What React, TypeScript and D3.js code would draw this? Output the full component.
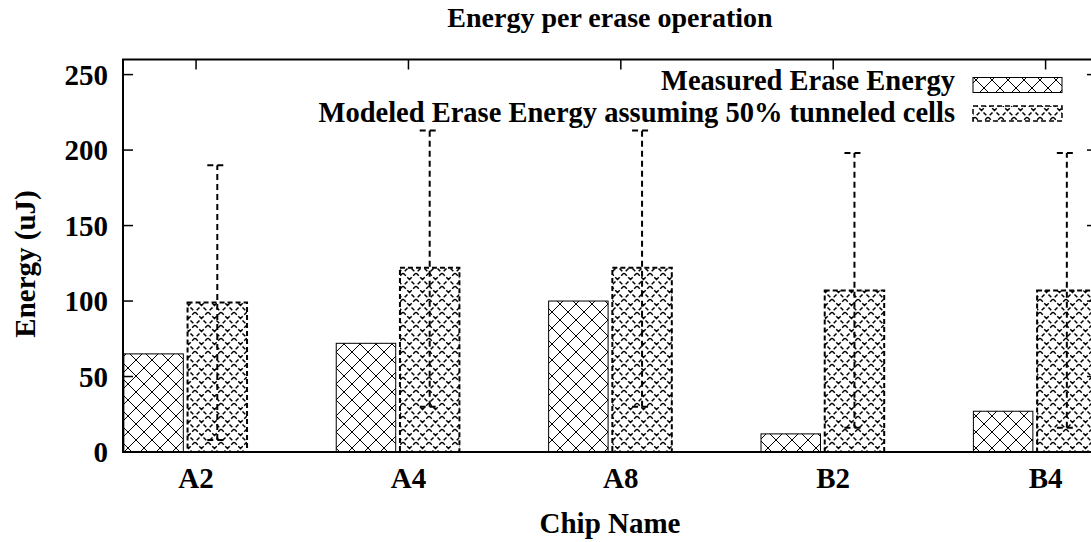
import * as d3 from 'd3';

const width = 1091;
const height = 542;

// data
const chips = ['A2', 'A4', 'A8', 'B2', 'B4'];
const measured = [65, 72, 100, 12, 27];
const modeled = [99, 122, 122, 107, 107];
const modeledLow = [8, 30, 30, 16, 16];
const modeledHigh = [190, 213, 213, 198, 198];
const yTicks = [0, 50, 100, 150, 200, 250];
const legendLabels = ['Measured Erase Energy', 'Modeled Erase Energy assuming 50% tunneled cells'];

const font = '"Liberation Serif", "Times New Roman", serif';

export default function App() {
    // plot frame (right border runs off the picture, as in the original)
    const left = 123;
    const right = 1097;
    const top = 59.5;
    const bottom = 452;

    const x = d3.scaleLinear().domain([-0.344, 4.242]).range([left, right]);
    const y = d3.scaleLinear().domain([0, 260]).range([bottom, top]);

    const bw = 0.28;
    const measOff = -0.34;
    const modOff = -0.04;

    return (
        <div style={{ position: 'absolute', left: 0, top: 0 }}>
            <svg width={width} height={height} style={{ display: 'block', background: '#fff' }} fontFamily={font} fontWeight="bold">
                <defs>
                    <pattern id="hatch" patternUnits="userSpaceOnUse" width={16} height={16}>
                        <path d="M0,0L16,16M16,0L0,16" stroke="#000" strokeWidth={1} />
                    </pattern>
                    <pattern id="dhatch" patternUnits="userSpaceOnUse" width={13} height={13}>
                        <path d="M0,0L13,13M13,0L0,13" stroke="#000" strokeWidth={1.5} strokeDasharray="4,2" />
                    </pattern>
                    <clipPath id="plot">
                        <rect x={left} y={top} width={right - left} height={bottom - top} />
                    </clipPath>
                </defs>

                {/* title */}
                <text x={610} y={27} fontSize={28} textAnchor="middle">Energy per erase operation</text>

                {/* bars */}
                <g clipPath="url(#plot)">
                    {chips.map((c, i) => (
                        <g key={c}>
                            <rect
                                x={x(i + measOff)}
                                y={y(measured[i])}
                                width={x(i + measOff + bw) - x(i + measOff)}
                                height={y(0) - y(measured[i])}
                                fill="url(#hatch)"
                                stroke="#000"
                                strokeWidth={1}
                            />
                            <rect
                                x={x(i + modOff)}
                                y={y(modeled[i])}
                                width={x(i + modOff + bw) - x(i + modOff)}
                                height={y(0) - y(modeled[i])}
                                fill="url(#dhatch)"
                                stroke="#000"
                                strokeWidth={2}
                                strokeDasharray="5,3"
                            />
                        </g>
                    ))}
                    {chips.map((c, i) => {
                        const cx = x(i + modOff + bw / 2);
                        return (
                            <g key={'e' + c} stroke="#000" strokeWidth={2} strokeDasharray="6,4" fill="none">
                                <line x1={cx} x2={cx} y1={y(modeledLow[i])} y2={y(modeledHigh[i])} />
                                <line x1={cx - 10} x2={cx + 10} y1={y(modeledHigh[i])} y2={y(modeledHigh[i])} />
                                <line x1={cx - 10} x2={cx + 10} y1={y(modeledLow[i])} y2={y(modeledLow[i])} />
                            </g>
                        );
                    })}
                </g>

                {/* frame */}
                <rect x={left} y={top} width={right - left} height={bottom - top} fill="none" stroke="#000" strokeWidth={2} />

                {/* y ticks */}
                {yTicks.map((t) => (
                    <g key={t}>
                        <line x1={left} x2={left + 10} y1={y(t)} y2={y(t)} stroke="#000" strokeWidth={1.5} />
                        <line x1={right - 10} x2={right} y1={y(t)} y2={y(t)} stroke="#000" strokeWidth={1.5} />
                        <text x={108} y={y(t)} dy="0.35em" fontSize={29} textAnchor="end">{t}</text>
                    </g>
                ))}

                {/* x ticks */}
                {chips.map((c, i) => (
                    <g key={'x' + c}>
                        <line x1={x(i)} x2={x(i)} y1={top} y2={top + 10} stroke="#000" strokeWidth={1.5} />
                        <text x={x(i)} y={488} fontSize={29} textAnchor="middle">{c}</text>
                    </g>
                ))}

                {/* axis titles */}
                <text x={610} y={533} fontSize={29} textAnchor="middle">Chip Name</text>
                <text transform="translate(35,264) rotate(-90)" fontSize={29} textAnchor="middle">Energy (uJ)</text>

                {/* legend */}
                {legendLabels.map((l, i) => (
                    <g key={l}>
                        <text x={955} y={90 + i * 32} fontSize={28.5} textAnchor="end">{l}</text>
                        <rect
                            x={973}
                            y={77.5 + i * 28.5}
                            width={89}
                            height={15}
                            fill={i === 0 ? 'url(#hatch)' : 'url(#dhatch)'}
                            stroke="#000"
                            strokeWidth={i === 0 ? 1 : 1.5}
                            strokeDasharray={i === 0 ? undefined : '5,3'}
                        />
                    </g>
                ))}
            </svg>
        </div>
    );
}
